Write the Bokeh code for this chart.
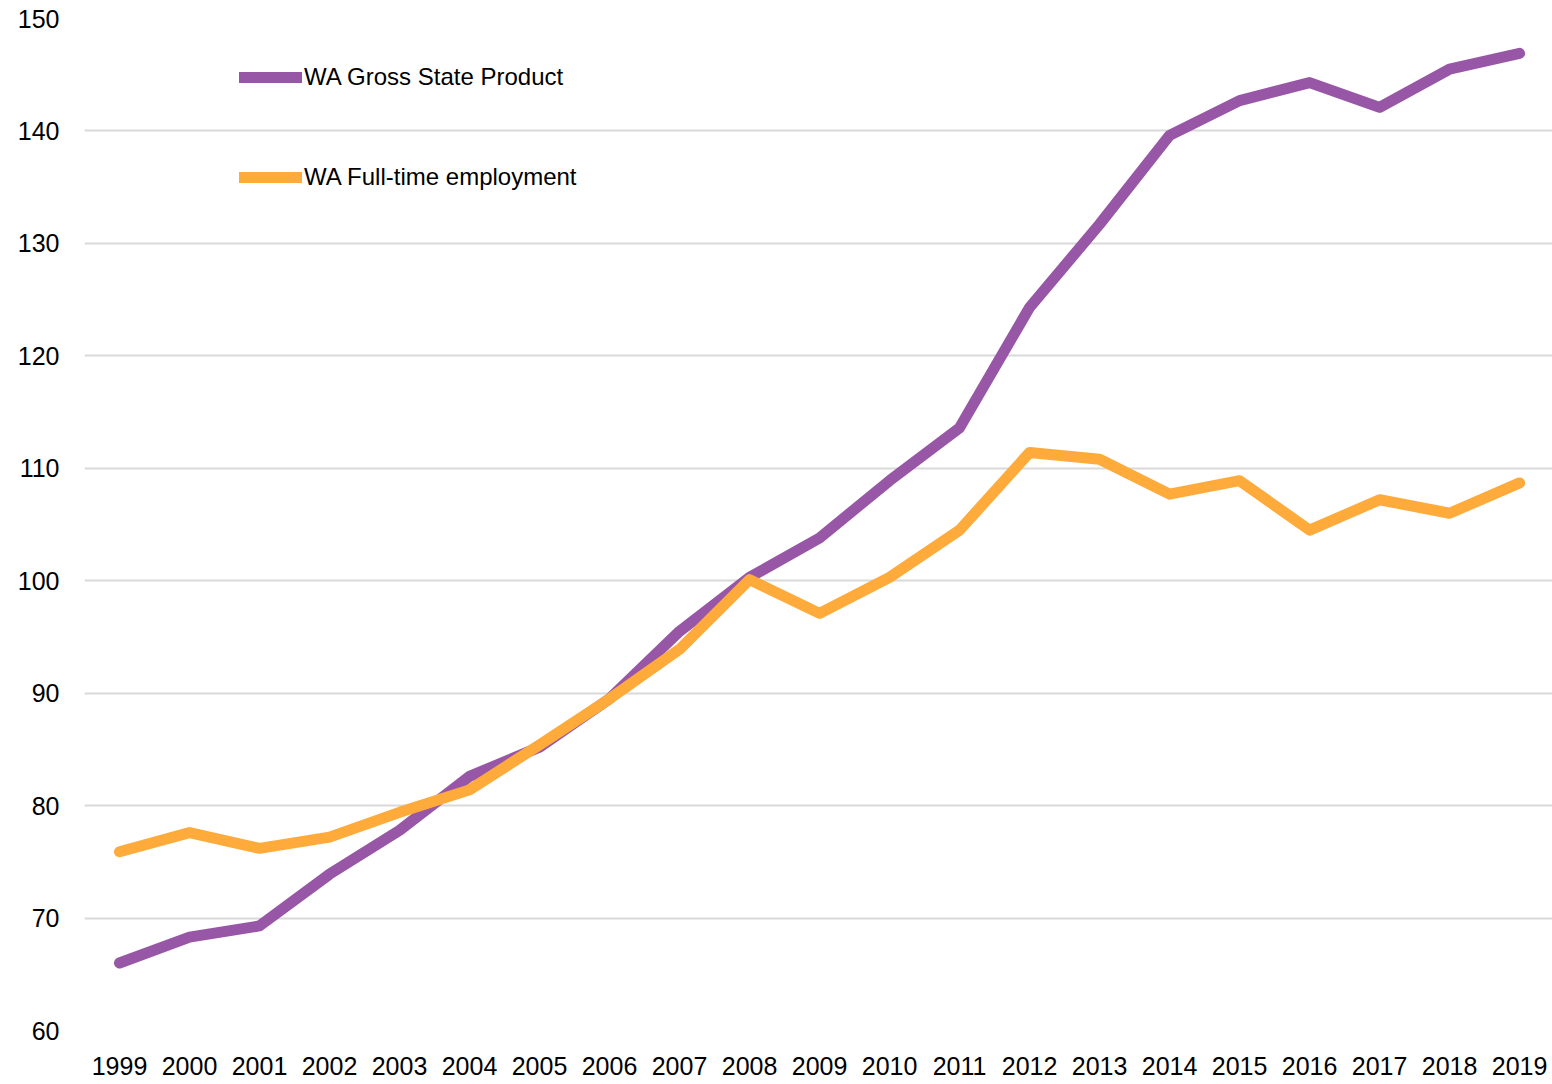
from bokeh.plotting import figure
from bokeh.models import Legend, LegendItem, FixedTicker, ColumnDataSource
from bokeh.embed import file_html
from bokeh.resources import INLINE

years = list(range(1999, 2020))
gsp = [66.0, 68.3, 69.3, 73.9, 77.8, 82.6, 85.2, 89.5, 95.5, 100.3, 103.8,
       108.9, 113.6, 124.3, 131.7, 139.6, 142.7, 144.3, 142.1, 145.5, 146.9]
fte = [75.9, 77.6, 76.2, 77.2, 79.4, 81.4, 85.4, 89.5, 93.9, 100.1, 97.1,
       100.3, 104.5, 111.4, 110.8, 107.7, 108.9, 104.5, 107.2, 106.0, 108.7]
y_ticks = [60, 70, 80, 90, 100, 110, 120, 130, 140, 150]
series_names = ["WA Gross State Product", "WA Full-time employment"]

FONT = "Liberation Sans"
PURPLE = "#9857A6"
ORANGE = "#FFAB3B"

src = ColumnDataSource(dict(year=years, gsp=gsp, fte=fte))

p = figure(width=1552, height=1084, output_backend="svg", toolbar_location=None,
           x_range=(1998.5, 2019.47), y_range=(60, 150),
           min_border_left=84, min_border_right=0, min_border_top=18,
           min_border_bottom=54)
p.outline_line_color = None
p.background_fill_color = "white"
p.border_fill_color = "white"

r1 = p.line("year", "gsp", source=src, line_color=PURPLE, line_width=11,
            line_cap="round", line_join="round")
r2 = p.line("year", "fte", source=src, line_color=ORANGE, line_width=11,
            line_cap="round", line_join="round")

p.xaxis.ticker = FixedTicker(ticks=years)
p.yaxis.ticker = FixedTicker(ticks=y_ticks)
for ax in (p.xaxis[0], p.yaxis[0]):
    ax.axis_line_color = None
    ax.major_tick_line_color = None
    ax.minor_tick_line_color = None
    ax.major_tick_in = 0
    ax.major_tick_out = 0
    ax.major_label_text_font = FONT
    ax.major_label_text_font_size = "25px"
    ax.major_label_text_color = "black"
p.xaxis.major_label_standoff = 26
p.yaxis.major_label_standoff = 25

p.xgrid.grid_line_color = None
p.ygrid.grid_line_color = "#d9d9d9"
p.ygrid.grid_line_width = 2

legend = Legend(items=[LegendItem(label=series_names[0], renderers=[r1]),
                       LegendItem(label=series_names[1], renderers=[r2])],
                location=(155, 833), orientation="vertical")
legend.label_text_font = FONT
legend.label_text_font_size = "24px"
legend.label_text_color = "black"
legend.glyph_width = 63
legend.glyph_height = 40
legend.label_height = 40
legend.spacing = 60
legend.label_standoff = 2
legend.padding = 0
legend.margin = 0
legend.border_line_color = None
legend.background_fill_alpha = 0
p.add_layout(legend)

open("out.html", "w").write(file_html(p, INLINE))
